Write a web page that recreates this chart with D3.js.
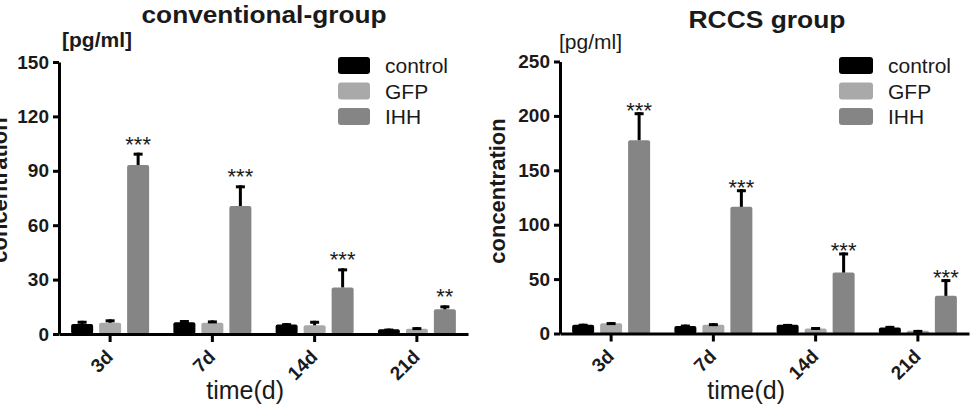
<!DOCTYPE html>
<html>
<head>
<meta charset="utf-8">
<script src="https://cdn.jsdelivr.net/npm/d3@7"></script>
<style>
  body { margin: 0; background: #fff; }
  text { font-family: "Liberation Sans", Arial, sans-serif; fill: #1a1a1a; }
</style>
</head>
<body>
<svg id="chart" width="970" height="408"></svg>
<script>
// categories
var times = ["3d", "7d", "14d", "21d"];
var series = ["control", "GFP", "IHH"];

// conventional-group (means and SD, pg/ml)
var convControl = [5.5, 6.5, 5.3, 2.6];
var convControlSd = [1.8, 1.2, 0.7, 0.4];
var convGFP = [6.2, 6.2, 4.8, 2.9];
var convGFPSd = [1.9, 1.3, 2.5, 0.9];
var convIHH = [93.2, 70.6, 25.7, 13.6];
var convIHHSd = [6.8, 11.4, 10.5, 2.2];
var convStars = ["***", "***", "***", "**"];
var convTicks = [0, 30, 60, 90, 120, 150];

// RCCS group
var rccsControl = [8.0, 7.0, 8.0, 5.5];
var rccsControlSd = [1.0, 1.2, 0.8, 1.5];
var rccsGFP = [9.5, 8.0, 4.5, 2.5];
var rccsGFPSd = [1.0, 1.5, 1.5, 0.8];
var rccsIHH = [177.7, 116.4, 56.0, 34.6];
var rccsIHHSd = [25.7, 16.2, 18.5, 15.4];
var rccsStars = ["***", "***", "***", "***"];
var rccsTicks = [0, 50, 100, 150, 200, 250];

var colors = {control: "#000000", GFP: "#a9a9a9", IHH: "#858585"};

var svg = d3.select("#chart");

function buildRows(ctrl, ctrlSd, gfp, gfpSd, ihh, ihhSd) {
    return times.map(function(t, i) {
        return {time: t, values: [
            {key: "control", v: ctrl[i], sd: ctrlSd[i]},
            {key: "GFP", v: gfp[i], sd: gfpSd[i]},
            {key: "IHH", v: ihh[i], sd: ihhSd[i]}
        ]};
    });
}

function drawPanel(opt) {
    var x0 = opt.x0, x1 = opt.x1, yTop = opt.yTop, yZero = opt.yZero;
    var g = svg.append("g");

    var x = d3.scaleBand().domain(times).range([x0, x1]);
    var xs = d3.scaleBand().domain(series).range([-39, 39]).paddingInner(0.214);
    var y = d3.scaleLinear().domain([0, opt.max]).range([yZero, yTop]);

    // title
    g.append("text")
        .attr("x", opt.titleX).attr("y", opt.titleY)
        .attr("text-anchor", "middle")
        .style("font-size", "23px").style("font-weight", "bold")
        .attr("textLength", opt.titleLen).attr("lengthAdjust", "spacingAndGlyphs")
        .text(opt.title);

    // unit
    g.append("text")
        .attr("x", x0 + opt.unitDx).attr("y", opt.unitY)
        .style("font-size", "21px").style("font-weight", opt.unitWeight)
        .text("[pg/ml]");

    // y label
    g.append("text")
        .attr("transform", "translate(" + (x0 - opt.ylabDx) + "," + opt.ylabY + ") rotate(-90)")
        .attr("text-anchor", "middle")
        .style("font-size", "22px").style("font-weight", "bold")
        .text("concentration");

    // bars
    var rows = buildRows.apply(null, opt.data);
    var grp = g.selectAll(".grp").data(rows).enter().append("g")
        .attr("transform", function(d) { return "translate(" + (x(d.time) + x.bandwidth() / 2) + ",0)"; });

    grp.selectAll("rect").data(function(d) { return d.values; }).enter().append("rect")
        .attr("x", function(d) { return xs(d.key); })
        .attr("width", xs.bandwidth())
        .attr("y", function(d) { return y(d.v); })
        .attr("height", function(d) { return yZero - y(d.v); })
        .attr("rx", 2)
        .attr("fill", function(d) { return colors[d.key]; });

    // error bars (upper)
    grp.selectAll(".err").data(function(d) { return d.values; }).enter().append("line")
        .attr("x1", function(d) { return xs(d.key) + xs.bandwidth() / 2; })
        .attr("x2", function(d) { return xs(d.key) + xs.bandwidth() / 2; })
        .attr("y1", function(d) { return y(d.v); })
        .attr("y2", function(d) { return y(d.v + d.sd); })
        .attr("stroke", "#000").attr("stroke-width", 3);
    grp.selectAll(".cap").data(function(d) { return d.values; }).enter().append("line")
        .attr("x1", function(d) { return xs(d.key) + xs.bandwidth() / 2 - 4.5; })
        .attr("x2", function(d) { return xs(d.key) + xs.bandwidth() / 2 + 4.5; })
        .attr("y1", function(d) { return y(d.v + d.sd) + 1.5; })
        .attr("y2", function(d) { return y(d.v + d.sd) + 1.5; })
        .attr("stroke", "#000").attr("stroke-width", 3);

    // significance stars above IHH
    grp.append("text")
        .attr("x", xs("IHH") + xs.bandwidth() / 2)
        .attr("y", function(d) { var h = d.values[2]; return y(h.v + h.sd) - opt.starGap; })
        .attr("text-anchor", "middle")
        .style("font-size", "22px")
        .text(function(d, i) { return opt.stars[i]; });

    // y axis
    var yAxis = g.append("g")
        .attr("transform", "translate(" + x0 + ",0)")
        .call(d3.axisLeft(y).tickValues(opt.ticks).tickSize(6).tickSizeOuter(0).tickPadding(4));
    yAxis.select(".domain").attr("stroke", "#000").attr("stroke-width", 3);
    yAxis.selectAll(".tick line").attr("stroke", "#000").attr("stroke-width", 3);
    yAxis.selectAll(".tick text")
        .style("font-size", "19px").style("font-weight", "bold")
        .style("font-family", "'Liberation Sans', Arial, sans-serif")
        .attr("fill", "#1a1a1a");

    // x axis
    var xAxis = g.append("g")
        .attr("transform", "translate(0," + yZero + ")")
        .call(d3.axisBottom(x).tickSize(8).tickSizeOuter(0));
    xAxis.select(".domain").attr("stroke", "#000").attr("stroke-width", 3);
    xAxis.selectAll(".tick line").attr("stroke", "#000").attr("stroke-width", 3);
    xAxis.selectAll(".tick text")
        .attr("dy", 0)
        .attr("text-anchor", "end")
        .style("font-size", "19px").style("font-weight", "bold")
        .style("font-family", "'Liberation Sans', Arial, sans-serif")
        .attr("fill", "#1a1a1a")
        .attr("transform", "translate(4,24) rotate(-45)")
        .attr("x", 0).attr("y", 0);

    g.append("text")
        .attr("x", x0 + 0.455 * (x1 - x0)).attr("y", 399)
        .attr("text-anchor", "middle")
        .style("font-size", "25px")
        .text("time(d)");

    // legend
    var leg = g.selectAll(".leg").data(series).enter().append("g")
        .attr("transform", function(d, i) { return "translate(" + opt.legX + "," + (57 + i * 25.5) + ")"; });
    leg.append("rect")
        .attr("width", opt.legW).attr("height", 17).attr("rx", 3)
        .attr("fill", function(d) { return colors[d]; });
    leg.append("text")
        .attr("x", opt.legW + 15).attr("y", 16)
        .style("font-size", "21px")
        .text(function(d) { return d; });
}

drawPanel({
    title: "conventional-group", titleX: 264, titleY: 23, titleLen: 245,
    unitDx: 3, unitY: 47, unitWeight: "bold",
    ylabDx: 52, ylabY: 190,
    x0: 59, x1: 468, yTop: 62, yZero: 334, max: 150, ticks: convTicks,
    data: [convControl, convControlSd, convGFP, convGFPSd, convIHH, convIHHSd],
    stars: convStars, starGap: 1,
    legX: 338, legW: 32
});

drawPanel({
    title: "RCCS group", titleX: 767, titleY: 28, titleLen: 157,
    unitDx: -1, unitY: 49, unitWeight: "normal",
    ylabDx: 55, ylabY: 191,
    x0: 560, x1: 969, yTop: 61.5, yZero: 333.5, max: 250, ticks: rccsTicks,
    data: [rccsControl, rccsControlSd, rccsGFP, rccsGFPSd, rccsIHH, rccsIHHSd],
    stars: rccsStars, starGap: -6,
    legX: 839, legW: 34
});
</script>
</body>
</html>
